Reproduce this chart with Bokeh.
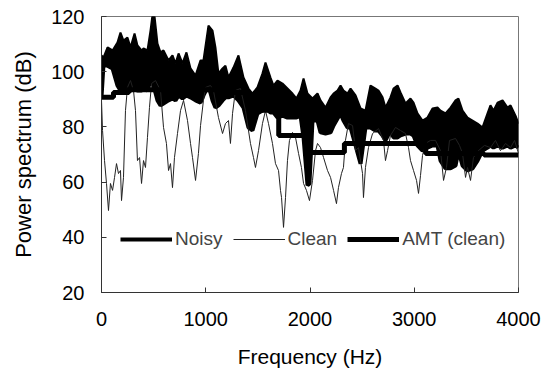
from bokeh.plotting import figure
from bokeh.models import Legend, LegendItem, Range1d, FixedTicker
from bokeh.embed import file_html
from bokeh.resources import INLINE

# ---- data ----
noisy_freq = [0, 19, 58, 106, 153, 182, 211, 249, 278, 317,
              345, 384, 403, 441, 470, 499, 537, 566, 595, 643,
              681, 710, 739, 777, 815, 854, 902, 950, 978, 1026,
              1065, 1093, 1122, 1161, 1189, 1218, 1266, 1314, 1362, 1410,
              1448, 1496, 1544, 1573, 1621, 1650, 1688, 1736, 1784, 1832,
              1870, 1909, 1938, 1976, 1995, 2024, 2072, 2101, 2149, 2197,
              2226, 2264, 2293, 2321, 2360, 2389, 2437, 2485, 2532, 2580,
              2628, 2657, 2696, 2724, 2772, 2801, 2840, 2868, 2916, 2964,
              2993, 3031, 3079, 3127, 3175, 3223, 3252, 3300, 3348, 3396,
              3424, 3463, 3511, 3559, 3607, 3655, 3703, 3731, 3760, 3799,
              3847, 3895, 3924, 3971, 4000]
noisy_upper = [105.9, 105.1, 108.8, 107.7, 110.6, 114.2, 111.3, 112.4, 108.8, 113.8,
               109.5, 107.7, 108.4, 107.7, 114.9, 123.5, 110.2, 107.0, 107.7, 104.1,
               105.9, 103.0, 106.6, 103.0, 107.0, 101.2, 98.6, 104.1, 104.1, 116.7,
               114.9, 108.8, 99.3, 101.2, 102.2, 97.9, 101.5, 105.9, 97.9, 93.9,
               92.1, 94.3, 99.3, 103.3, 97.9, 95.0, 96.8, 95.7, 93.9, 92.1,
               90.3, 93.2, 97.5, 92.1, 91.4, 90.3, 92.1, 89.6, 87.0, 90.7,
               92.1, 93.2, 95.0, 93.2, 92.1, 93.9, 91.4, 86.7, 85.9, 95.0,
               93.9, 93.2, 90.7, 87.0, 90.7, 93.9, 95.0, 92.5, 88.5, 90.3,
               88.8, 84.9, 82.3, 83.4, 86.7, 87.0, 85.9, 84.9, 87.0, 89.6,
               90.3, 85.9, 83.4, 82.3, 81.2, 79.8, 84.9, 87.8, 85.9, 88.8,
               89.6, 87.0, 87.8, 84.1, 81.2]
noisy_lower = [90.7, 102.6, 102.2, 101.2, 95.0, 93.2, 93.2, 92.1, 93.2, 93.9,
               93.2, 93.2, 93.9, 93.2, 96.8, 95.0, 89.6, 87.8, 88.5, 89.6,
               90.3, 89.6, 91.4, 90.3, 91.4, 90.7, 89.6, 88.8, 91.4, 95.0,
               89.6, 87.0, 87.8, 89.6, 90.7, 90.7, 91.4, 89.6, 87.0, 79.8,
               78.7, 84.9, 85.9, 87.0, 85.2, 85.2, 83.4, 84.1, 83.4, 83.4,
               83.4, 84.1, 76.2, 58.8, 59.5, 82.3, 82.3, 78.0, 77.6, 78.0,
               80.5, 83.0, 84.9, 82.3, 79.8, 79.8, 73.3, 66.7, 79.8, 79.8,
               78.7, 78.7, 76.9, 75.1, 78.7, 76.2, 76.2, 76.9, 77.6, 77.6,
               76.9, 73.3, 71.4, 72.5, 73.3, 73.3, 67.8, 65.0, 65.0, 66.0,
               71.4, 66.0, 64.2, 65.0, 67.8, 71.4, 72.5, 73.3, 72.5, 73.3,
               72.5, 73.3, 72.5, 73.3, 72.5]

clean_freq = [0, 10, 29, 48, 67, 86, 106, 125, 144, 163,
              182, 192, 211, 230, 249, 278, 307, 326, 345, 365,
              384, 403, 422, 441, 460, 480, 518, 566, 595, 623,
              643, 662, 681, 700, 729, 758, 787, 825, 854, 873,
              902, 930, 950, 978, 998, 1046, 1074, 1122, 1161, 1189,
              1218, 1237, 1257, 1285, 1333, 1381, 1429, 1458, 1477, 1506,
              1544, 1573, 1602, 1640, 1669, 1698, 1717, 1727, 1746, 1765,
              1784, 1803, 1832, 1861, 1890, 1918, 1938, 1966, 1995, 2024,
              2053, 2072, 2101, 2130, 2168, 2197, 2226, 2254, 2273, 2302,
              2321, 2340, 2369, 2408, 2437, 2465, 2504, 2513, 2532, 2561,
              2600, 2657, 2705, 2724, 2744, 2772, 2820, 2868, 2916, 2945,
              2964, 2993, 3022, 3041, 3060, 3079, 3108, 3156, 3204, 3252,
              3281, 3309, 3338, 3396, 3434, 3463, 3492, 3511, 3540, 3568,
              3616, 3674, 3731, 3779, 3827, 3875, 3924, 3962, 4000]
clean_db = [89.6, 78.7, 67.8, 59.5, 49.7, 59.5, 57.0, 61.7, 66.7, 63.1,
            64.2, 53.3, 61.7, 85.9, 94.3, 96.8, 93.2, 85.9, 67.8, 68.9,
            59.5, 67.8, 65.3, 76.2, 87.0, 95.7, 96.8, 93.2, 79.8, 74.0,
            64.2, 66.7, 58.0, 68.9, 77.6, 85.9, 89.6, 82.3, 74.0, 68.9,
            60.6, 70.4, 80.5, 89.6, 94.3, 95.0, 93.2, 83.4, 77.6, 81.2,
            82.3, 74.0, 84.9, 93.2, 93.9, 85.9, 74.0, 68.9, 65.3, 71.4,
            81.2, 85.9, 81.2, 74.0, 66.7, 64.2, 57.0, 54.4, 43.6, 54.4,
            67.8, 75.1, 78.0, 76.2, 70.4, 65.3, 59.5, 57.0, 53.3, 60.6,
            71.4, 74.0, 72.5, 68.9, 64.2, 61.7, 57.0, 52.2, 58.0, 63.1,
            65.3, 75.1, 81.2, 80.5, 71.4, 72.5, 63.1, 54.4, 65.3, 72.5,
            77.6, 79.4, 75.1, 67.8, 71.4, 76.9, 79.8, 78.7, 77.6, 72.5,
            67.8, 64.2, 60.6, 55.9, 62.4, 69.6, 74.0, 75.1, 75.1, 71.4,
            60.6, 65.3, 75.1, 75.8, 73.3, 70.4, 61.7, 65.3, 60.6, 68.9,
            71.4, 73.3, 72.5, 75.1, 71.4, 74.0, 72.5, 75.1, 70.4]

amt_edges = [0, 115, 250, 1250, 1420, 1700, 1960, 2330, 3110, 3670, 4000]
amt_db = [90.7, 92.5, 93.5, 92.5, 86.0, 76.9, 70.7, 74.0, 70.4, 69.8]

x_ticks = [0, 1000, 2000, 3000, 4000]
y_ticks = [20, 40, 60, 80, 100, 120]

FONT = "Liberation Sans"

p = figure(width=547, height=375, output_backend="svg", toolbar_location=None,
           x_range=Range1d(0, 4000), y_range=Range1d(20, 120),
           min_border_left=101, min_border_right=29,
           min_border_top=16, min_border_bottom=83)
p.xgrid.visible = False
p.ygrid.visible = False
p.outline_line_color = "#777777"
p.outline_line_width = 1
p.background_fill_color = "white"
p.border_fill_color = "white"

p.xaxis.ticker = FixedTicker(ticks=x_ticks)
p.yaxis.ticker = FixedTicker(ticks=y_ticks)
for ax in (p.xaxis[0], p.yaxis[0]):
    ax.axis_line_color = "#333333"
    ax.major_tick_line_color = "#333333"
    ax.major_tick_in = 5
    ax.major_tick_out = 0
    ax.minor_tick_line_color = None
    ax.major_label_text_font = FONT
    ax.major_label_text_font_size = "20px"
    ax.major_label_text_color = "black"
    ax.axis_label_text_font = FONT
    ax.axis_label_text_font_style = "normal"
    ax.axis_label_text_color = "black"

p.xaxis.axis_label = "Frequency (Hz)"
p.xaxis.axis_label_text_font_size = "21px"
p.xaxis.major_label_standoff = 19
p.xaxis.axis_label_standoff = 16
p.yaxis.axis_label = "Power spectrum (dB)"
p.yaxis.axis_label_text_font_size = "22px"
p.yaxis.major_label_standoff = 17
p.yaxis.axis_label_standoff = 12

# noisy spectrum: a thick, dense line drawn as a filled band between its envelopes
p.varea(x=noisy_freq, y1=noisy_lower, y2=noisy_upper, fill_color="black")
p.line(noisy_freq, noisy_upper, line_color="black", line_width=2)
noisy_r = p.line(noisy_freq, noisy_lower, line_color="black", line_width=4)

clean_r = p.line(clean_freq, clean_db, line_color="#222222", line_width=1)

amt_r = p.step(x=amt_edges, y=amt_db + [amt_db[-1]], mode="after",
               line_color="black", line_width=5)

legend = Legend(items=[LegendItem(label="Noisy", renderers=[noisy_r]),
                       LegendItem(label="Clean", renderers=[clean_r]),
                       LegendItem(label="AMT (clean)", renderers=[amt_r])],
                orientation="horizontal", location=(19, 42),
                border_line_color=None, background_fill_alpha=0,
                label_text_font=FONT, label_text_font_size="19px",
                glyph_width=52, glyph_height=20, label_standoff=3,
                spacing=10, padding=0, margin=0)
p.add_layout(legend)

open("out.html", "w").write(file_html(p, INLINE))
